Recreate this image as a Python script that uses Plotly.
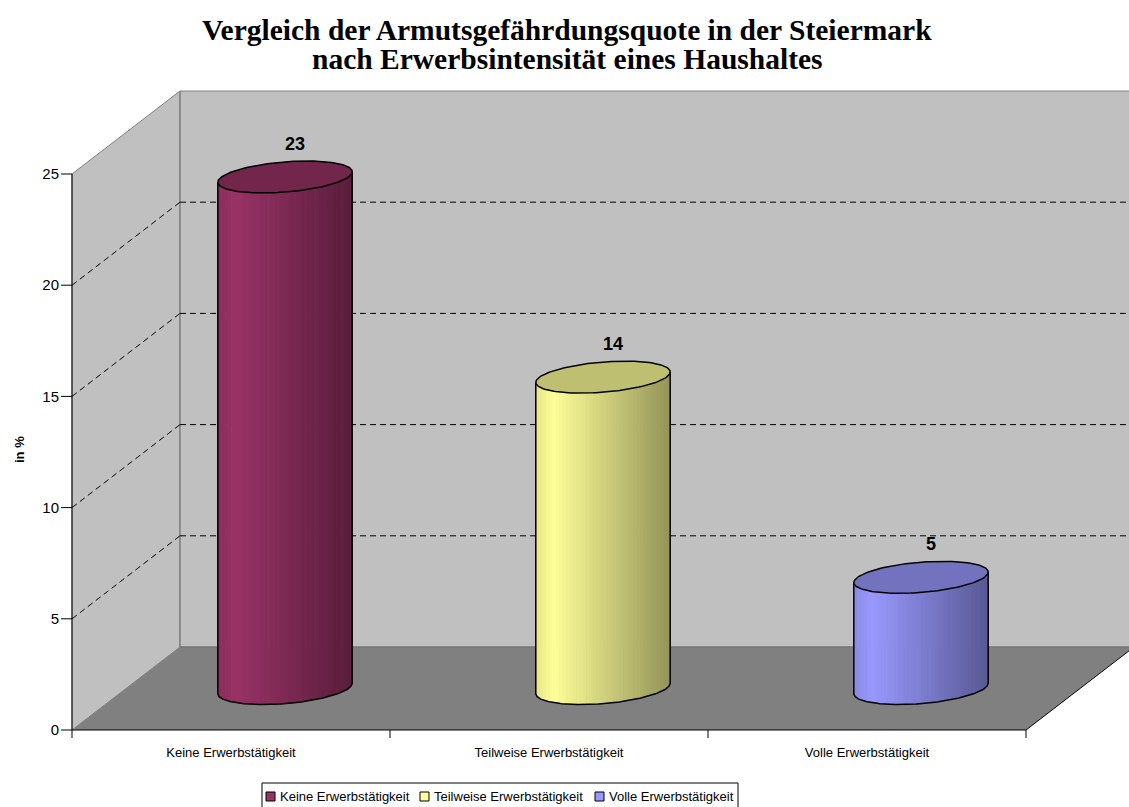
import numpy as np
import plotly.graph_objects as go

# ---------------- data ----------------
categories = ["Keine Erwerbstätigkeit", "Teilweise Erwerbstätigkeit", "Volle Erwerbstätigkeit"]
values = [23, 14, 5]
bar_colors = ["#993366", "#FFFF99", "#9999FF"]
y_ticks = [0, 5, 10, 15, 20, 25]
y_max = 25
title_lines = ["Vergleich der Armutsgefährdungsquote in der Steiermark",
               "nach Erwerbsintensität eines Haushaltes"]
y_title = "in %"

# ---------------- geometry / style ----------------
W, H = 1129, 807
ML, MR, MT, MB = 60, 0, 88, 67
PW, PH = W - ML - MR, H - MT - MB
PX_X = 318.0          # pixels per category
PX_Y = 22.24          # pixels per value unit
PAD_L, PAD_B = 12, 10  # px between plot edge and front wall edges
DX = 108 / PX_X       # depth offset (category units)
DY = 83 / PX_Y        # depth offset (value units)
n = len(categories)
x0 = -0.5
x_lo = x0 - PAD_L / PX_X
x_hi = x_lo + PW / PX_X
y_lo = -PAD_B / PX_Y
y_hi = y_lo + PH / PX_Y

A = 63.5 / PX_X
P = 22.0 / PX_X
B = 16.0 / PX_Y
R = np.hypot(A, P)
T0 = np.arctan2(P, A)

WALL = "#C0C0C0"
FLOOR = "#808080"
EDGE = "#808080"
SANS = "Liberation Sans, Arial"
SERIF = "Liberation Serif, Times New Roman"


def px_x(px):
    return (px - ML) / PW


def px_y(py):
    return (H - MB - py) / PH


def lower(X):
    return B * np.sin(T0 - np.arccos(np.clip(X / R, -1, 1)))


def upper(X):
    return B * np.sin(T0 + np.arccos(np.clip(X / R, -1, 1)))


def rgb(c, f):
    c = c.lstrip("#")
    r, g, b = (int(c[i:i + 2], 16) for i in (0, 2, 4))
    return "rgb(%d,%d,%d)" % (min(255, r * f), min(255, g * f), min(255, b * f))


shapes = []


def path(pts):
    return "M " + " L ".join("%.5f,%.5f" % p for p in pts) + " Z"


# left wall
shapes.append(dict(type="path", xref="x", yref="y", layer="below",
                   path=path([(x0, 0), (x0, y_max), (x0 + DX, y_max + DY), (x0 + DX, DY)]),
                   fillcolor=WALL, line=dict(color=EDGE, width=1)))
# back wall
shapes.append(dict(type="rect", xref="x", yref="y", layer="below",
                   x0=x0 + DX, x1=x0 + n + DX, y0=DY, y1=y_max + DY,
                   fillcolor=WALL, line=dict(color=EDGE, width=1)))
# floor
shapes.append(dict(type="path", xref="x", yref="y", layer="below",
                   path=path([(x0, 0), (x0 + n, 0), (x0 + n + DX, DY), (x0 + DX, DY)]),
                   fillcolor=FLOOR, line=dict(width=0)))
shapes.append(dict(type="line", xref="x", yref="y", layer="below",
                   x0=x0 + DX, x1=x0 + n + DX, y0=DY, y1=DY, line=dict(color="#707070", width=1)))
shapes.append(dict(type="line", xref="x", yref="y", layer="below",
                   x0=x0 + DX, x1=x0 + DX, y0=DY, y1=y_max + DY, line=dict(color=EDGE, width=1)))
# gridlines
for v in y_ticks:
    if 0 < v < y_max:
        shapes.append(dict(type="line", xref="x", yref="y", layer="below",
                           x0=x0 + DX, x1=x0 + n + DX, y0=v + DY, y1=v + DY,
                           line=dict(color="#000000", width=1, dash="6px,4px")))
        shapes.append(dict(type="line", xref="x", yref="y", layer="below",
                           x0=x0, x1=x0 + DX, y0=v, y1=v + DY,
                           line=dict(color="#000000", width=1, dash="6px,4px")))
# floor right edge
shapes.append(dict(type="line", xref="x", yref="y", layer="below",
                   x0=x0 + n, x1=x0 + n + DX, y0=0, y1=DY, line=dict(color="#000000", width=1)))
# axes
shapes.append(dict(type="line", xref="x", yref="y", x0=x0, x1=x0, y0=0, y1=y_max,
                   line=dict(color="#000000", width=1)))
shapes.append(dict(type="line", xref="x", yref="y", x0=x0, x1=x0 + n, y0=0, y1=0,
                   line=dict(color="#000000", width=1)))
for v in y_ticks:
    shapes.append(dict(type="line", xref="x", yref="y", x0=x0 - 11 / PX_X, x1=x0, y0=v, y1=v,
                       line=dict(color="#000000", width=1)))
for k in range(n + 1):
    shapes.append(dict(type="line", xref="x", yref="y", x0=x0 + k, x1=x0 + k, y0=0, y1=-8 / PX_Y,
                       line=dict(color="#000000", width=1)))

fig = go.Figure()

N_STRIPS = 40
for i, (v, col) in enumerate(zip(values, bar_colors)):
    cx = i + DX / 2
    yb = DY / 2
    yt = v + DY / 2
    edges = np.linspace(-R, R, N_STRIPS + 1)
    for k in range(N_STRIPS):
        xa = edges[k]
        xb = min(edges[k + 1] + 0.6 / PX_X, R)
        xs = np.linspace(xa, xb, 5)
        tt = (k + 0.5) / N_STRIPS
        f = 0.9 + 0.1 * tt / 0.13 if tt < 0.13 else 1.0 - 0.42 * (tt - 0.13) / 0.87
        px = list(cx + xs) + list(cx + xs[::-1])
        py = list(yb + lower(xs)) + list(yt + upper(xs[::-1]))
        fig.add_trace(go.Scatter(x=px + [px[0]], y=py + [py[0]], mode="none", fill="toself",
                                 fillcolor=rgb(col, f), showlegend=False, hoverinfo="skip"))
    # outline of body
    xs = np.linspace(-R, R, 120)
    ox = [cx - R] + list(cx + xs) + [cx + R]
    oy = [yt + lower(-R)] + list(yb + lower(xs)) + [yt + lower(R)]
    fig.add_trace(go.Scatter(x=ox, y=oy, mode="lines", line=dict(color="#000000", width=1.5),
                             showlegend=False, hoverinfo="skip"))
    # top cap
    t = np.linspace(0, 2 * np.pi, 160)
    fig.add_trace(go.Scatter(x=cx + A * np.cos(t) + P * np.sin(t), y=yt + B * np.sin(t),
                             mode="lines", fill="toself", fillcolor=rgb(col, 0.75),
                             line=dict(color="#000000", width=1.5), showlegend=False, hoverinfo="skip"))

annotations = []
for i, v in enumerate(values):
    annotations.append(dict(x=i + DX / 2 + 10 / PX_X, y=v + DY / 2, xref="x", yref="y",
                            text="<b>%d</b>" % v, showarrow=False, yshift=33,
                            font=dict(family=SANS, size=18, color="#000000")))
# y axis title
annotations.append(dict(x=px_x(19), y=px_y(450), xref="paper", yref="paper",
                        text="<b>%s</b>" % y_title, textangle=-90, showarrow=False,
                        xanchor="center", yanchor="middle",
                        font=dict(family=SANS, size=13, color="#000000")))
# title (two lines)
for line, cy in zip(title_lines, [30, 59]):
    annotations.append(dict(x=px_x(567), y=px_y(cy), xref="paper", yref="paper",
                            text="<b>%s</b>" % line, showarrow=False, yanchor="middle",
                            font=dict(family=SERIF, size=29.5, color="#000000")))

# legend (box, swatches, labels)
LEG_TOP, LEG_BOT = 783, 812
LEG_L, LEG_R = 262, 738
leg_items_px = [266, 420, 595]  # swatch left edges
shapes.append(dict(type="rect", xref="paper", yref="paper",
                   x0=px_x(LEG_L), x1=px_x(LEG_R), y0=px_y(LEG_TOP), y1=px_y(LEG_BOT),
                   fillcolor="#FFFFFF", line=dict(color="#000000", width=1)))
for cat, col, lx in zip(categories, bar_colors, leg_items_px):
    shapes.append(dict(type="rect", xref="paper", yref="paper",
                       x0=px_x(lx), x1=px_x(lx + 9), y0=px_y(792), y1=px_y(801),
                       fillcolor=col, line=dict(color="#000000", width=1)))
    annotations.append(dict(x=px_x(lx + 12), y=px_y(796.5), xref="paper", yref="paper",
                            text=cat, showarrow=False, xanchor="left", yanchor="middle",
                            font=dict(family=SANS, size=13, color="#000000")))

fig.update_layout(
    width=W, height=H, autosize=False,
    margin=dict(l=ML, r=MR, t=MT, b=MB, pad=0, autoexpand=False),
    paper_bgcolor="#FFFFFF", plot_bgcolor="#FFFFFF",
    xaxis=dict(range=[x_lo, x_hi], tickvals=list(range(n)), ticktext=categories, ticks="",
               showgrid=False, zeroline=False, showline=False, automargin=False,
               ticklabelstandoff=3,
               tickfont=dict(family=SANS, size=13, color="#000000")),
    yaxis=dict(range=[y_lo, y_hi], tickvals=y_ticks, ticks="", showgrid=False, zeroline=False,
               showline=False, automargin=False,
               tickfont=dict(family=SANS, size=15, color="#000000")),
    shapes=shapes,
    annotations=annotations,
    showlegend=False,
)

fig.write_html("out.html", config={"displayModeBar": False},
               post_script="document.body.style.margin='0';document.body.style.padding='0';"
                           "document.documentElement.style.overflow='hidden';")
